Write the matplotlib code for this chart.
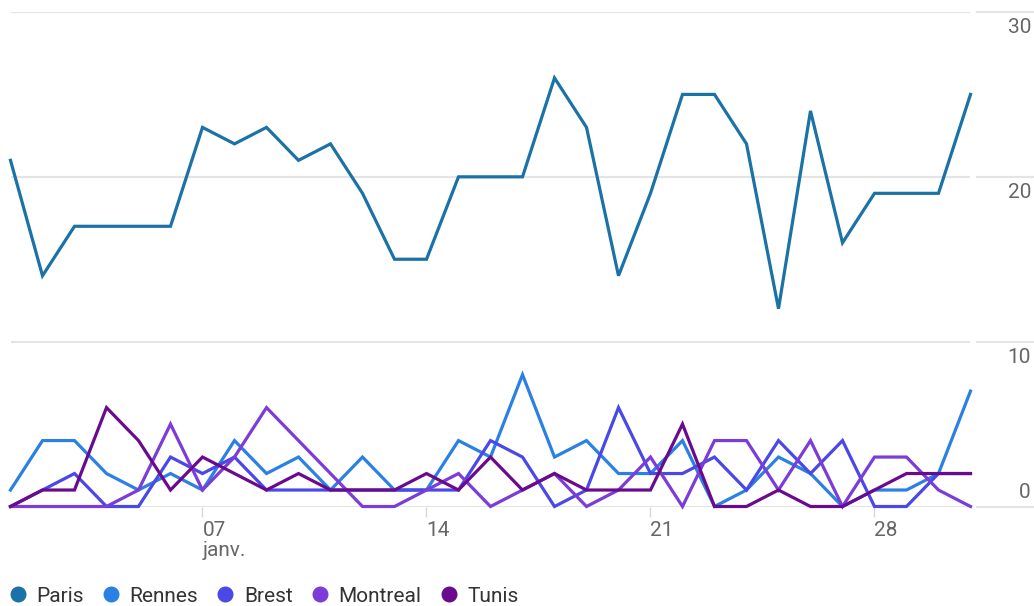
import matplotlib
matplotlib.use("Agg")
import matplotlib.pyplot as plt
from matplotlib.lines import Line2D
from matplotlib.transforms import blended_transform_factory

plt.rcParams['font.family'] = ['Roboto', 'DejaVu Sans']

days = list(range(1, 32))
paris = [21, 14, 17, 17, 17, 17, 23, 22, 23, 21, 22, 19, 15, 15, 20, 20, 20, 26, 23, 14,
         19, 25, 25, 22, 12, 24, 16, 19, 19, 19, 25]
rennes = [1, 4, 4, 2, 1, 2, 1, 4, 2, 3, 1, 3, 1, 1, 4, 3, 8, 3, 4, 2,
          2, 4, 0, 1, 3, 2, 0, 1, 1, 2, 7]
brest = [0, 1, 2, 0, 0, 3, 2, 3, 1, 1, 1, 1, 1, 1, 1, 4, 3, 0, 1, 6,
         2, 2, 3, 1, 4, 2, 4, 0, 0, 2, 2]
montreal = [0, 0, 0, 0, 1, 5, 1, 3, 6, 4, 2, 0, 0, 1, 2, 0, 1, 2, 0, 1,
            3, 0, 4, 4, 1, 4, 0, 3, 3, 1, 0]
tunis = [0, 1, 1, 6, 4, 1, 3, 2, 1, 2, 1, 1, 1, 2, 1, 3, 1, 2, 1, 1,
         1, 5, 0, 0, 1, 0, 0, 1, 2, 2, 2]

series_names = ["Paris", "Rennes", "Brest", "Montreal", "Tunis"]
series_values = [paris, rennes, brest, montreal, tunis]
colors = ["#1b72a6", "#2b80e3", "#4a48e6", "#7b3cd8", "#6a0b8e"]

xtick_pos = [7, 14, 21, 28]
xtick_labels = ["07\njanv.", "14", "21", "28"]
ytick_pos = [0, 10, 20, 30]
ytick_labels = ["0", "10", "20", "30"]

FS = 15
W, H = 1034, 606
fig = plt.figure(figsize=(W / 100, H / 100), dpi=100)
x0, x1 = 10.5, 970.5
y_top, y_bot = 12, 506.5
ax = fig.add_axes([x0 / W, (H - y_bot) / H, (x1 - x0) / W, (y_bot - y_top) / H])

for name, vals, c in zip(series_names, series_values, colors):
    ax.plot(days, vals, color=c, lw=2.3, solid_joinstyle='miter', label=name,
            clip_on=False, zorder=3)

ax.set_xlim(days[0], days[-1])
ax.set_ylim(0, 30)
for s in ax.spines.values():
    s.set_visible(False)

ax.set_yticks(ytick_pos)
ax.yaxis.grid(True, color="#e4e4e4", lw=1.5)
ax.set_axisbelow(True)
ax.tick_params(axis='y', left=False, labelleft=False)

ax.set_xticks(xtick_pos)
ax.set_xticklabels(xtick_labels)
ax.tick_params(axis='x', direction='out', length=7, width=1.0, color="#d8d8d8",
               pad=3.5, labelsize=FS, labelcolor="#666666")
for lbl in ax.get_xticklabels():
    lbl.set_horizontalalignment('left')
    lbl.set_multialignment('left')
    lbl.set_linespacing(1.05)

# right-hand y scale: short segments and labels
tr = blended_transform_factory(fig.transFigure, ax.transData)
for yv, yl in zip(ytick_pos, ytick_labels):
    fig.add_artist(Line2D([977 / W, 1.0], [yv, yv], transform=tr, color="#e4e4e4", lw=1.5))
    if yv == 0:
        ax.annotate(yl, xy=(1031 / W, yv), xycoords=tr, xytext=(0, 3),
                    textcoords='offset points', ha='right', va='bottom',
                    fontsize=FS, color="#666666")
    else:
        ax.annotate(yl, xy=(1031 / W, yv), xycoords=tr, xytext=(0, -4.5),
                    textcoords='offset points', ha='right', va='top',
                    fontsize=FS, color="#666666")

handles = [Line2D([], [], marker='o', ls='none', color=c, markersize=10.5) for c in colors]
fig.legend(handles, series_names, loc='center left', bbox_to_anchor=(4.0 / W, (H - 596) / H),
           ncol=5, frameon=False, fontsize=FS, handletextpad=0.55, columnspacing=0.95,
           handlelength=0.7, borderaxespad=0, borderpad=0.3, labelcolor="#333333")

fig.savefig("out.png", dpi=100)
